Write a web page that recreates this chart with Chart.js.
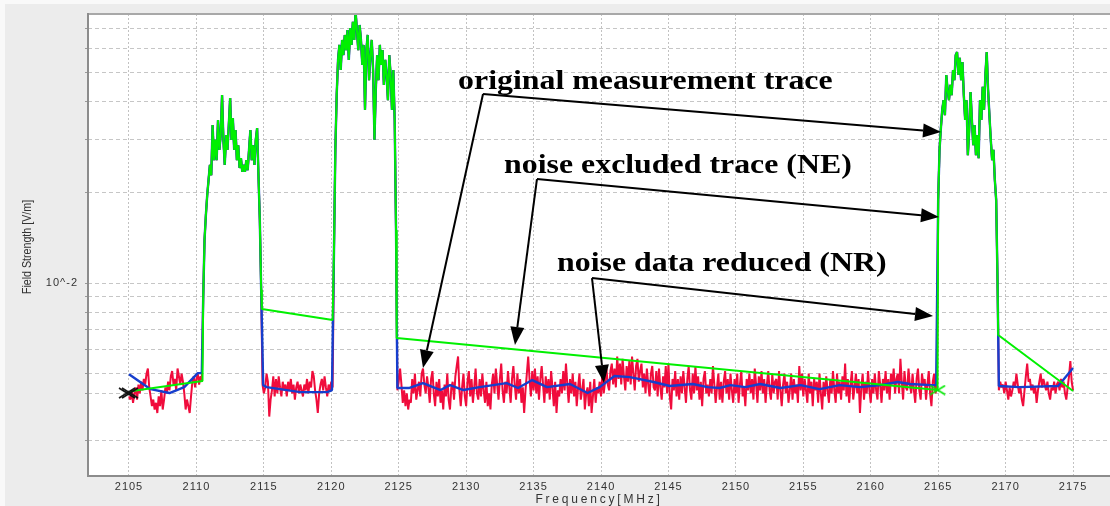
<!DOCTYPE html>
<html><head><meta charset="utf-8">
<script src="https://cdn.jsdelivr.net/npm/chart.js@4/dist/chart.umd.min.js"></script>
<style>html,body{margin:0;padding:0;background:#fff}canvas{display:block}</style>
</head><body>
<canvas id="c" width="1110" height="506"></canvas>
<script>
// ---- sweep definition (MHz) ----
const sweepStart = 2105.0;
const sweepStep = 0.1;

// ---- original measurement trace, field strength [V/m], in sweep order ----
// 2105.0 - 2110.4
const noiseA = [.0042,.0041,.0044,.0040,.0043,.0045,.0041,.0046,.0043,.0047,
  .0044,.0048,.0046,.0050,.0052,.0045,.0042,.0039,.0041,.0038,
  .0040,.0037,.0042,.0039,.0044,.0038,.0041,.0045,.0043,.0047,
  .0044,.0049,.0051,.0046,.0048,.0044,.0052,.0049,.0046,.0050,
  .0047,.0043,.0038,.0041,.0039,.0037,.0042,.0047,.0049,.0045,
  .0048,.0050,.0046,.0049,.0047];
// 2110.5 - 2114.8
const peakA = [.0088,.0139,.0168,.0196,.0220,.0247,.0228,.0335,.0256,.0299,
  .0256,.0348,.0277,.0310,.0421,.0299,.0247,.0310,.0277,.0335,
  .0412,.0299,.0353,.0277,.0322,.0256,.0287,.0241,.0260,.0234,
  .0247,.0234,.0256,.0237,.0277,.0322,.0256,.0287,.0247,.0299,
  .0327,.0228,.0162,.0095];
// 2114.9 - 2120.1
const noiseB = [.0046,.0043,.0045,.0050,.0047,.0036,.0041,.0044,.0049,.0042,
  .0048,.0043,.0049,.0045,.0042,.0047,.0044,.0046,.0042,.0047,
  .0044,.0048,.0043,.0046,.0041,.0045,.0047,.0043,.0046,.0044,
  .0042,.0046,.0044,.0048,.0043,.0047,.0045,.0051,.0049,.0044,
  .0041,.0037,.0043,.0046,.0048,.0044,.0049,.0045,.0042,.0046,
  .0044,.0047,.0045];
// 2120.2 - 2124.8
const peakB = [.0129,.0277,.0421,.0551,.0618,.0510,.0642,.0572,.0667,.0594,
  .0693,.0551,.0703,.0618,.0737,.0642,.0800,.0693,.0594,.0720,
  .0642,.0530,.0618,.0376,.0594,.0667,.0472,.0572,.0642,.0510,
  .0299,.0438,.0572,.0472,.0618,.0530,.0594,.0455,.0551,.0491,
  .0405,.0572,.0491,.0376,.0510,.0348,.0150];
// 2124.9 - 2164.9
const noiseC = [.0044,
  .0047,.0052,.0046,.0040,.0044,.0039,.0043,.0038,.0041,.0040,
  .0048,.0043,.0050,.0041,.0044,.0047,.0042,.0050,.0052,.0046,
  .0043,.0049,.0045,.0040,.0048,.0051,.0043,.0039,.0047,.0042,
  .0048,.0040,.0044,.0038,.0046,.0042,.0050,.0041,.0038,.0045,
  .0047,.0041,.0049,.0053,.0057,.0044,.0039,.0045,.0050,.0042,
  .0039,.0047,.0051,.0042,.0048,.0040,.0045,.0052,.0043,.0041,
  .0048,.0042,.0050,.0044,.0040,.0047,.0039,.0043,.0038,.0046,
  .0050,.0043,.0052,.0046,.0041,.0048,.0054,.0044,.0040,.0047,
  .0043,.0051,.0045,.0040,.0048,.0053,.0046,.0041,.0050,.0043,
  .0048,.0040,.0045,.0037,.0044,.0050,.0057,.0048,.0042,.0051,
  .0044,.0052,.0043,.0049,.0041,.0048,.0053,.0046,.0040,.0049,
  .0043,.0048,.0041,.0051,.0045,.0039,.0047,.0037,.0044,.0042,
  .0048,.0043,.0051,.0044,.0054,.0046,.0040,.0048,.0043,.0050,
  .0042,.0047,.0039,.0045,.0050,.0041,.0044,.0048,.0038,.0043,
  .0045,.0039,.0047,.0037,.0042,.0048,.0040,.0045,.0043,.0047,
  .0042,.0050,.0043,.0047,.0052,.0046,.0044,.0051,.0054,.0046,
  .0052,.0045,.0057,.0048,.0054,.0046,.0056,.0049,.0044,.0053,
  .0047,.0055,.0046,.0057,.0050,.0044,.0053,.0056,.0047,.0051,
  .0054,.0045,.0050,.0043,.0052,.0046,.0042,.0050,.0053,.0045,
  .0044,.0051,.0042,.0052,.0045,.0041,.0049,.0045,.0053,.0043,
  .0054,.0042,.0038,.0048,.0044,.0051,.0042,.0048,.0041,.0049,
  .0043,.0051,.0045,.0040,.0048,.0053,.0044,.0041,.0050,.0043,
  .0053,.0044,.0049,.0041,.0047,.0039,.0048,.0051,.0043,.0046,
  .0042,.0048,.0043,.0053,.0046,.0040,.0045,.0050,.0041,.0047,
  .0040,.0047,.0051,.0043,.0048,.0041,.0050,.0044,.0040,.0048,
  .0043,.0050,.0040,.0046,.0051,.0042,.0045,.0039,.0048,.0044,
  .0050,.0043,.0048,.0041,.0052,.0046,.0040,.0049,.0044,.0051,
  .0043,.0048,.0040,.0046,.0051,.0044,.0041,.0050,.0043,.0047,
  .0048,.0041,.0051,.0044,.0039,.0046,.0050,.0043,.0047,.0040,
  .0044,.0050,.0041,.0048,.0043,.0046,.0040,.0053,.0044,.0050,
  .0042,.0048,.0044,.0040,.0050,.0043,.0047,.0039,.0048,.0044,
  .0047,.0040,.0050,.0043,.0038,.0047,.0042,.0049,.0044,.0040,
  .0048,.0043,.0051,.0044,.0040,.0050,.0043,.0047,.0041,.0049,
  .0044,.0054,.0042,.0048,.0040,.0046,.0051,.0041,.0045,.0050,
  .0043,.0048,.0037,.0045,.0050,.0041,.0047,.0043,.0051,.0044,
  .0040,.0048,.0043,.0050,.0044,.0041,.0051,.0046,.0040,.0048,
  .0044,.0051,.0043,.0048,.0041,.0050,.0046,.0052,.0043,.0048,
  .0050,.0043,.0056,.0047,.0041,.0051,.0045,.0044,.0052,.0046,
  .0043,.0050,.0044,.0040,.0048,.0052,.0044,.0041,.0050,.0046,
  .0048,.0041,.0046,.0051,.0043,.0039,.0047,.0050,.0043,.0045];
// 2165.0 - 2169.4
const peakC = [.0189,.0277,.0327,.0376,.0405,.0361,.0491,.0438,.0405,.0455,
  .0421,.0510,.0472,.0572,.0585,.0491,.0560,.0472,.0542,.0421,
  .0348,.0405,.0266,.0322,.0431,.0348,.0287,.0335,.0266,.0310,
  .0260,.0405,.0348,.0449,.0376,.0491,.0585,.0438,.0361,.0299,
  .0256,.0277,.0220,.0189,.0102];
// 2169.5 - 2175.0
const noiseD = [.0044,.0047,.0045,.0046,.0043,.0047,.0044,.0041,.0045,.0042,
  .0044,.0047,.0045,.0050,.0046,.0043,.0045,.0041,.0039,.0044,
  .0049,.0054,.0047,.0048,.0044,.0046,.0043,.0045,.0040,.0044,
  .0047,.0050,.0045,.0048,.0046,.0044,.0047,.0043,.0041,.0045,
  .0044,.0047,.0043,.0046,.0047,.0044,.0048,.0045,.0047,.0043,
  .0041,.0045,.0049,.0055,.0047,.0044];

// ---- noise data reduced (NR) trace in the noise sections ----
const nrFreqA = [2105.0, 2106.6, 2108.0, 2109.1, 2110.1, 2110.4];
const nrValA  = [0.00498, 0.00444, 0.00431, 0.00451, 0.00502, 0.00502];
const nrFreqB = [2114.95, 2115.2, 2117.7, 2119.7, 2120.05];
const nrValB  = [0.00458, 0.00451, 0.00434, 0.00434, 0.00441];
const nrFreqC = [2124.9, 2125.8, 2126.8, 2128.1, 2128.8, 2129.8, 2131.0, 2133.0, 2133.85, 2134.9,
  2136.0, 2137.7, 2139.0, 2139.9, 2141.0, 2142.15, 2143.9, 2145.1, 2146.8, 2147.9,
  2148.8, 2149.6, 2150.7, 2151.8, 2153.3, 2154.8, 2156.2, 2157.7, 2159.2, 2160.7,
  2162.0, 2162.9, 2164.5, 2164.85];
const nrValC = [0.00448, 0.00448, 0.00465, 0.00441, 0.00458, 0.00441, 0.00451, 0.00465, 0.00448, 0.00476,
  0.00451, 0.00462, 0.00431, 0.00451, 0.00491, 0.00487, 0.00469, 0.00455, 0.00462, 0.00451,
  0.00448, 0.00458, 0.00451, 0.00462, 0.00448, 0.00458, 0.00444, 0.00458, 0.00451, 0.00458,
  0.00469, 0.00462, 0.00458, 0.00458];
const nrFreqD = [2169.5, 2171.0, 2173.9, 2175.0];
const nrValD  = [0.00455, 0.00451, 0.00455, 0.00522];

// ---- noise excluded (NE) trace in the noise sections ----
const neFreqA = [2105.1, 2110.45];
const neValA  = [0.00437, 0.00473];
const neFreqB = [2114.85, 2120.1];
const neValB  = [0.00820, 0.00754];
const neFreqC = [2124.85, 2164.95];
const neValC  = [0.00657, 0.00441];
const neFreqD = [2169.45, 2175.0];
const neValD  = [0.00672, 0.00438];

// ---- markers ----
const markerFreq = [2105.0, 2165.0];
const markerVal  = [0.00431, 0.00441];

// ---- axes ----
const xTickValues = [2105,2110,2115,2120,2125,2130,2135,2140,2145,2150,2155,2160,2165,2170,2175];
const yGridValues = [0.003,0.0043,0.005,0.006,0.007,0.008,0.009,0.01,0.02,0.03,0.04,0.05,0.06,0.07];
const yLabelValue = 0.01;
const yLabelText = '10^-2';
const xTitle = 'Frequency[MHz]';
const yTitle = 'Field Strength [V/m]';

// ---- annotations ----
const annotations = [
  {text:'original measurement trace', at:[2129.40,0.04410], from:[2131.25,0.04245], to:[[2165.21,0.03175],[2126.80,0.005219]]},
  {text:'noise excluded trace (NE)',  at:[2132.81,0.02319], from:[2135.25,0.02216], to:[[2165.06,0.01657],[2133.62,0.006223]]},
  {text:'noise data reduced (NR)',    at:[2136.74,0.01096], from:[2139.33,0.01039], to:[[2164.62,0.00777],[2140.22,0.004654]]}
];

// ---- build datasets ----
const measured = [].concat(noiseA, peakA, noiseB, peakB, noiseC, peakC, noiseD);
const measuredPts = measured.map((v, i) => ({x: +(sweepStart + i * sweepStep).toFixed(2), y: v}));
const pts = (fs, vs) => fs.map((f, i) => ({x: f, y: vs[i]}));
const iA = noiseA.length, iB = iA + peakA.length + noiseB.length;
const iC = iB + peakB.length + noiseC.length;
const pkA = measuredPts.slice(iA, iA + peakA.length);
const pkB = measuredPts.slice(iB, iB + peakB.length);
const pkC = measuredPts.slice(iC, iC + peakC.length);
const nrPts = [].concat(pts(nrFreqA,nrValA), pkA, pts(nrFreqB,nrValB), pkB, pts(nrFreqC,nrValC), pkC, pts(nrFreqD,nrValD));
const nePts = [].concat(pts(neFreqA,neValA), pkA, pts(neFreqB,neValB), pkB, pts(neFreqC,neValC), pkC, pts(neFreqD,neValD));

function makeCross(w, h, color, lw, dbl) {
  const c = document.createElement('canvas'); c.width = w; c.height = h;
  const g = c.getContext('2d'); g.strokeStyle = color; g.lineWidth = lw;
  const span = dbl ? w - 5 : w - 2;
  const draw = (ox) => { g.beginPath(); g.moveTo(ox+1,1); g.lineTo(ox+span,h-1); g.moveTo(ox+1,h-1); g.lineTo(ox+span,1); g.stroke(); };
  draw(0); if (dbl) draw(3);
  return c;
}
const blackX = makeCross(22, 12, '#111', 1.6, true);
const greenX = makeCross(18, 11, 'rgb(0,235,0)', 1.6, false);

const bgPlugin = {
  id: 'bg',
  beforeDraw(chart) {
    const ctx = chart.ctx, a = chart.chartArea;
    ctx.save();
    ctx.fillStyle = '#f9f9f9'; ctx.fillRect(0, 0, chart.width, chart.height);
    ctx.fillStyle = '#ececec'; ctx.fillRect(5, 4, chart.width - 5, chart.height - 4);
    ctx.fillStyle = '#ffffff'; ctx.fillRect(a.left, a.top, a.right - a.left, a.bottom - a.top);
    ctx.restore();
    ctx.letterSpacing = '1px';
  },
  afterDraw(chart) {
    const ctx = chart.ctx, a = chart.chartArea, xs = chart.scales.x, ys = chart.scales.y;
    ctx.save();
    ctx.letterSpacing = '0px';
    // frame
    ctx.lineWidth = 2;
    ctx.strokeStyle = '#a8a8a8';
    ctx.beginPath(); ctx.moveTo(a.left, a.top); ctx.lineTo(a.right, a.top); ctx.stroke();
    ctx.strokeStyle = '#8c8c8c';
    ctx.beginPath(); ctx.moveTo(a.left, a.top - 1); ctx.lineTo(a.left, a.bottom + 1); ctx.stroke();
    ctx.beginPath(); ctx.moveTo(a.left - 1, a.bottom); ctx.lineTo(a.right, a.bottom); ctx.stroke();
    // axis titles
    ctx.fillStyle = '#333';
    ctx.textAlign = 'center'; ctx.textBaseline = 'middle';
    ctx.font = '12px "Liberation Sans", Arial, sans-serif';
    ctx.letterSpacing = '2.8px';
    ctx.fillText(xTitle, (a.left + a.right) / 2, 500);
    ctx.letterSpacing = '0px';
    ctx.save();
    ctx.translate(27, (a.top + a.bottom) / 2 + 2);
    ctx.rotate(-Math.PI / 2);
    ctx.scale(0.82, 1);
    ctx.font = '13px "Liberation Sans", Arial, sans-serif';
    ctx.fillText(yTitle, 0, 0);
    ctx.restore();
    // annotations
    ctx.fillStyle = '#000'; ctx.strokeStyle = '#000'; ctx.lineWidth = 2;
    ctx.font = 'bold 27px "Liberation Serif", "Times New Roman", serif';
    ctx.textAlign = 'left'; ctx.textBaseline = 'alphabetic';
    annotations.forEach(an => {
      const tx = xs.getPixelForValue(an.at[0]), ty = ys.getPixelForValue(an.at[1]);
      ctx.save(); ctx.translate(tx, ty); ctx.scale(1.18, 1); ctx.fillText(an.text, 0, 0); ctx.restore();
      const fx = xs.getPixelForValue(an.from[0]), fy = ys.getPixelForValue(an.from[1]);
      an.to.forEach(t => {
        const px = xs.getPixelForValue(t[0]), py = ys.getPixelForValue(t[1]);
        const ang = Math.atan2(py - fy, px - fx), L = 18, W = 7;
        const bx = px - L * Math.cos(ang), by = py - L * Math.sin(ang);
        ctx.beginPath(); ctx.moveTo(fx, fy); ctx.lineTo(bx, by); ctx.stroke();
        ctx.beginPath();
        ctx.moveTo(px, py);
        ctx.lineTo(bx + W * Math.sin(ang), by - W * Math.cos(ang));
        ctx.lineTo(bx - W * Math.sin(ang), by + W * Math.cos(ang));
        ctx.closePath(); ctx.fill();
      });
    });
    ctx.restore();
  }
};

new Chart(document.getElementById('c'), {
  type: 'line',
  data: {
    datasets: [
      {label:'markers start', data: pts(markerFreq.slice(0,1), markerVal.slice(0,1)), showLine:false, pointStyle: blackX, pointRadius: 8},
      {label:'markers end', data: pts(markerFreq.slice(1), markerVal.slice(1)), showLine:false, pointStyle: greenX, pointRadius: 8},
      {label:'noise excluded trace (NE)', data: nePts, borderColor:'rgb(0,240,0)', borderWidth:2},
      {label:'noise data reduced (NR)', data: nrPts, borderColor:'rgb(22,62,205)', borderWidth:2.4},
      {label:'original measurement trace', data: measuredPts, borderColor:'rgb(240,12,60)', borderWidth:2}
    ]
  },
  options: {
    responsive: false, animation: false, devicePixelRatio: 1,
    layout: {autoPadding: false, padding: {top: 14, right: 0, left: 0, bottom: 0}},
    plugins: {legend: {display: false}, tooltip: {enabled: false}},
    elements: {point: {radius: 0}, line: {tension: 0, borderJoinStyle: 'bevel', fill: false}},
    scales: {
      x: {
        type: 'linear', min: 2101.96, max: 2177.74,
        afterBuildTicks: s => { s.ticks = xTickValues.map(v => ({value: v})); },
        afterFit: s => { s.height = 30; s.paddingLeft = 0; s.paddingRight = 0; },
        grid: {color: '#c2c2c2', lineWidth: 1, drawTicks: false},
        border: {display: false, dash: [2, 2]},
        ticks: {padding: 4, autoSkip: false, maxRotation: 0, color: '#333',
          font: {family: '"Liberation Sans", Arial, sans-serif', size: 11},
          callback: v => String(v)}
      },
      y: {
        type: 'logarithmic', min: 0.002285, max: 0.0783,
        afterBuildTicks: s => { s.ticks = yGridValues.map(v => ({value: v})); },
        afterFit: s => { s.width = 88; s.paddingTop = 0; s.paddingBottom = 0; },
        grid: {color: '#c6c6c6', lineWidth: 1, drawTicks: true, tickLength: 3, tickColor: '#999', tickBorderDash: []},
        border: {display: false, dash: [4, 3]},
        ticks: {padding: 7, autoSkip: false, color: '#333',
          font: {family: '"Liberation Sans", Arial, sans-serif', size: 11},
          callback: v => (Math.abs(v - yLabelValue) < 1e-9 ? yLabelText : '')}
      }
    }
  },
  plugins: [bgPlugin]
});
</script>
</body></html>
